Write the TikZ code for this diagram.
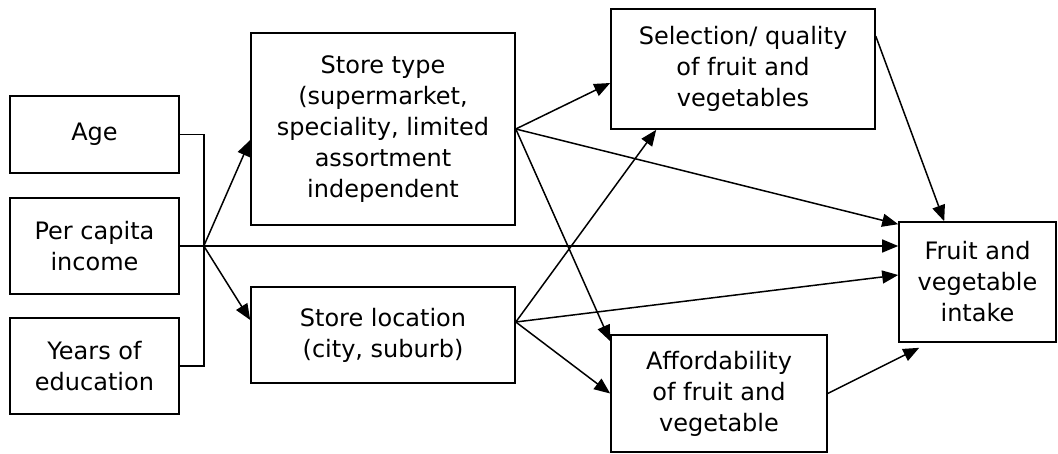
\documentclass[tikz,border=0pt]{standalone}
\usepackage{fontspec}
\setmainfont{DejaVu Sans}
\usetikzlibrary{arrows.meta}

\tikzset{
  factor/.style={draw, line width=1.6pt, align=center, inner sep=0pt,
                 font=\fontsize{24}{31}\selectfont},
  link/.style={line width=1.5pt, -{Triangle[length=16pt,width=13pt]}}
}

\begin{document}
\begin{tikzpicture}[x=1pt,y=-1pt]
                  \useasboundingbox (0,0) rectangle (1058,453);
                  \node[factor, minimum width=169pt, minimum height=77pt]  (age)    at (94.5,134.5) {Age};
                  \node[factor, minimum width=169pt, minimum height=96pt]  (income) at (94.5,246)   {Per capita\\income};
                  \node[factor, minimum width=169pt, minimum height=96pt]  (educ)   at (94.5,366)   {Years of\\education};
                  \node[factor, minimum width=264pt, minimum height=192pt] (type)   at (383,129)    {Store type\\(supermarket,\\speciality, limited\\assortment\\independent};
                  \node[factor, minimum width=264pt, minimum height=96pt]  (loc)    at (383,335)    {Store location\\(city, suburb)};
                  \node[factor, minimum width=264pt, minimum height=120pt] (sel)    at (743,69)     {Selection/ quality\\of fruit and\\vegetables};
                  \node[factor, minimum width=216pt, minimum height=117pt] (aff)    at (719,393.5)  {Affordability\\of fruit and\\vegetable};
                  \node[factor, minimum width=157pt, minimum height=120pt] (fruit)  at (977.5,282)  {Fruit and\\vegetable\\intake};
                  \coordinate (j)  at ([xshift=24pt]income.east);
                  \coordinate (lo) at ([yshift=13pt]loc.east);
                  \draw[line width=1.5pt] (age.east) -| (j) |- (educ.east);
                  \draw[line width=1.5pt] (income.east) -- (j);
                  \draw[link] (j) -- ([yshift=-11pt]type.west);
                  \draw[link] (j) -- ([yshift=15pt]loc.west);
                  \draw[link] (j) -- (j -| fruit.west);
                  \draw[link] (type.east) -- ([yshift=-14pt]sel.west);
                  \draw[link] (type.east) -- ([yshift=-3pt]fruit.north west);
                  \draw[link] (type.east) -- ([yshift=-7pt]aff.north west);
                  \draw[link] (lo) -- ([xshift=46pt]sel.south west);
                  \draw[link] (lo) -- ([yshift=7pt]fruit.west);
                  \draw[link] (lo) -- (aff.west);
                  \draw[link] ([yshift=-28pt]sel.north east) -- ([xshift=46pt]fruit.north west);
                  \draw[link] (aff.east) -- ([xshift=21pt,yshift=-5pt]fruit.south west);
                \end{tikzpicture}
\end{document}
